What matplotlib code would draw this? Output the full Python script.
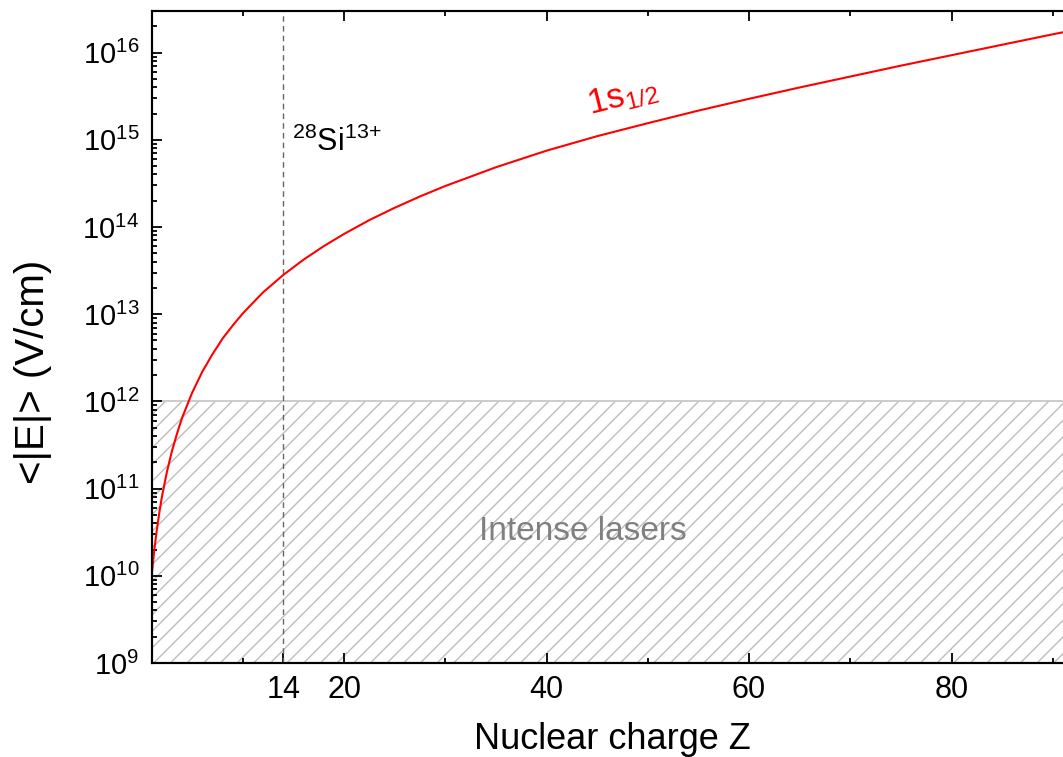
import matplotlib
matplotlib.use("Agg")
import matplotlib.pyplot as plt
from matplotlib.ticker import FixedLocator, LogLocator, NullFormatter, FixedFormatter

# ---- data ----
Z = [1, 1.25, 1.5, 1.75, 2, 2.5, 3, 3.5, 4, 5, 6, 7, 8, 9, 10, 11, 12, 13, 14,
     16, 18, 20, 22.5, 25, 27.5, 30, 35, 40, 45, 50, 55, 60, 65, 70, 75, 80,
     85, 90, 92]
E = [1.0e10, 1.95e10, 3.31e10, 5.25e10, 7.94e10, 1.55e11, 2.69e11, 4.27e11,
     6.46e11, 1.26e12, 2.19e12, 3.47e12, 5.25e12, 7.41e12, 1.02e13, 1.35e13,
     1.78e13, 2.24e13, 2.82e13, 4.22e13, 6.03e13, 8.32e13, 1.2e14, 1.66e14,
     2.24e14, 2.95e14, 4.84e14, 7.5e14, 1.1e15, 1.55e15, 2.16e15, 2.95e15,
     3.98e15, 5.31e15, 7.08e15, 9.33e15, 1.23e16, 1.62e16, 1.8e16]
laser_range = [1e9, 1e12]
z_si = 14
x_major = [14, 20, 40, 60, 80]
x_minor = [10, 30, 50, 70, 90]
top_major = [20, 40, 60, 80]
top_minor = [10, 30, 50, 70, 90]

plt.rcParams['font.family'] = ['Liberation Sans', 'DejaVu Sans']
plt.rcParams['mathtext.default'] = 'regular'
plt.rcParams['hatch.linewidth'] = 1.0
plt.rcParams['hatch.color'] = '#bdbdbd'

fig = plt.figure(figsize=(10.63, 7.57), dpi=100)
ax = fig.add_axes([0.1427, 0.1242, 1.0094 - 0.1427, 0.9855 - 0.1242])

ax.set_yscale('log')
ax.set_xlim(1, 92)
ax.set_ylim(1e9, 3e16)

# hatched "intense lasers" region
ax.fill_between([1, 92], laser_range[0], laser_range[1], facecolor='none',
                edgecolor='#bdbdbd', hatch='//', linewidth=0, zorder=1)
ax.axhline(laser_range[1], color='#c8c8c8', lw=1.3, zorder=1)

# Si line
ax.axvline(z_si, color='#666666', lw=1.0, ls=(0, (4, 3)), zorder=2)

# curve
ax.plot(Z, E, color='red', lw=1.5, zorder=3)

# texts
ax.text(14.9, 7.4e14, r'$^{28}$Si$^{13{+}}$', fontsize=22, ha='left', va='baseline')
ax.text(44.3, 1.95e15, r'1s$_{1/2}$', fontsize=25, color='red', rotation=14,
        rotation_mode='anchor', ha='left', va='baseline')
ax.text(43.6, 3.2e10, 'Intense lasers', fontsize=24, color='#808080',
        ha='center', va='center')

# ticks
ax.xaxis.set_major_locator(FixedLocator(x_major))
ax.xaxis.set_minor_locator(FixedLocator(x_minor))
ax.xaxis.set_major_formatter(FixedFormatter([str(v) for v in x_major]))
ax.yaxis.set_major_locator(LogLocator(base=10, numticks=20))
ax.yaxis.set_minor_locator(LogLocator(base=10, subs=range(2, 10), numticks=20))
ax.yaxis.set_minor_formatter(NullFormatter())

ax.tick_params(which='both', direction='in', top=False, right=True, width=1.3)
ax.tick_params(which='major', length=7, pad=9)
ax.tick_params(axis='x', which='major', labelsize=22)
ax.tick_params(axis='y', which='major', labelsize=21)
ax.tick_params(which='minor', length=3.5)

# top ticks
axt = ax.twiny()
axt.set_xlim(ax.get_xlim())
axt.xaxis.set_major_locator(FixedLocator(top_major))
axt.xaxis.set_minor_locator(FixedLocator(top_minor))
axt.xaxis.set_major_formatter(NullFormatter())
axt.tick_params(which='both', direction='in', width=1.3)
axt.tick_params(which='major', length=7)
axt.tick_params(which='minor', length=3.5)

for a in (ax, axt):
    for s in a.spines.values():
        s.set_linewidth(1.5)

ax.set_xlabel('Nuclear charge Z', fontsize=26)
ax.xaxis.set_label_coords(0.5, -0.09)
ax.set_ylabel('<|E|> (V/cm)', fontsize=29)
ax.yaxis.set_label_coords(-0.108, 0.446)

fig.savefig('out.png', dpi=100)
